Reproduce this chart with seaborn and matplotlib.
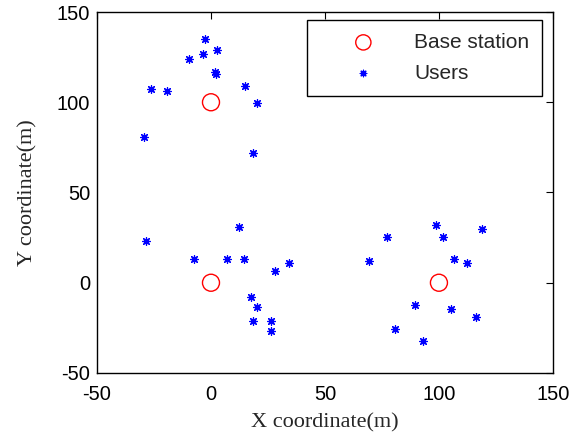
import matplotlib
matplotlib.use("Agg")
import matplotlib.pyplot as plt
import seaborn as sns
import pandas as pd

# Base stations
bs_x = [0, 0, 100]
bs_y = [100, 0, 0]

# Users
user_x = [-2.5, 2.8, -3.4, -9.5, 1.8, 2.2, -26.1, -19.1, 15.0, 20.4, -29.6, 18.5,
          12.5, -28.7, -7.6, 7.1, 14.3, 34.4, 28.1, 17.6, 20.4, 18.5, 26.4, 26.4,
          98.8, 119.1, 77.3, 101.6, 69.4, 106.8, 112.1, 89.5, 105.2, 116.2, 80.6, 93.0]
user_y = [135.2, 128.7, 126.5, 124.1, 117.0, 115.5, 107.4, 106.5, 108.9, 99.8, 80.9, 71.9,
          30.9, 23.2, 13.0, 13.0, 13.0, 10.9, 6.5, -7.9, -13.5, -21.3, -21.3, -27.0,
          32.1, 29.6, 25.4, 25.4, 12.1, 13.2, 10.9, -12.4, -14.6, -19.1, -25.7, -32.4]

xticks = [-50, 0, 50, 100, 150]
yticks = [-50, 0, 50, 100, 150]

bs_df = pd.DataFrame({"x": bs_x, "y": bs_y})
user_df = pd.DataFrame({"x": user_x, "y": user_y})

sns.set_style("white")
plt.rcParams["font.family"] = ["Liberation Sans", "DejaVu Sans"]
plt.rcParams["axes.unicode_minus"] = False

fig = plt.figure(figsize=(5.83, 4.37), dpi=100)
ax = fig.add_axes([0.1664, 0.1465, 0.782, 0.826])

sns.scatterplot(data=bs_df, x="x", y="y", ax=ax, marker="o", s=150,
                facecolors="none", edgecolor="red", linewidth=1.0,
                label="Base station", zorder=3)
sns.scatterplot(data=user_df, x="x", y="y", ax=ax, marker=(8, 2, 0), s=30,
                color="blue", edgecolor="blue", linewidth=0.9,
                label="Users", zorder=3)

ax.set_xlim(-50, 150)
ax.set_ylim(-50, 150)
ax.set_xticks(xticks)
ax.set_yticks(yticks)
ax.tick_params(direction="in", top=True, right=True, length=5, width=0.8,
               labelsize=14.5, colors="black")
ax.tick_params(axis="x", pad=9)
ax.tick_params(axis="y", pad=5)
for sp in ax.spines.values():
    sp.set_visible(True)
    sp.set_color("black")
    sp.set_linewidth(1.0)

ax.set_xlabel("X coordinate(m)", fontsize=16, family=["Liberation Serif", "DejaVu Serif"])
ax.set_ylabel("Y coordinate(m)", fontsize=16, family=["Liberation Serif", "DejaVu Serif"])
ax.xaxis.set_label_coords(0.5, -0.112)
ax.yaxis.set_label_coords(-0.13, 0.5)

leg = ax.legend(loc="upper right", bbox_to_anchor=(0.977, 0.978), borderaxespad=0,
                fontsize=15, frameon=True, fancybox=False, edgecolor="black",
                framealpha=1, borderpad=0.62, handlelength=4.2, handletextpad=0.35,
                labelspacing=0.58)
leg.get_frame().set_linewidth(1.0)
for h in leg.legend_handles:
    if h.get_label() == "Base station":
        h.set_sizes([120])
    else:
        h.set_sizes([22])

fig.savefig("out.png", dpi=100)
